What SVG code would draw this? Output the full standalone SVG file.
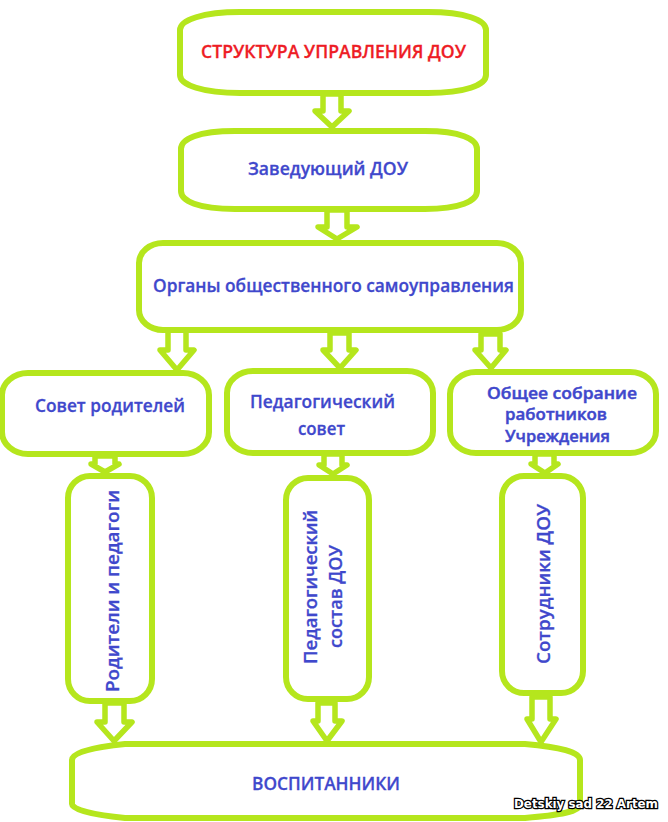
<svg xmlns="http://www.w3.org/2000/svg" width="668" height="822" viewBox="0 0 668 822">
<style>
.n{fill:#fff;stroke:#b5e61d;stroke-width:6}
.a{fill:#fff;stroke:#b5e61d;stroke-width:5.5;stroke-linejoin:round}
text{font-family:"Open Sans","Noto Sans","Liberation Sans",sans-serif;font-weight:600;font-size:18.5px;fill:#3f48cc;stroke:#3f48cc;stroke-width:.3}
.t{fill:#ee1c25;stroke:#ee1c25}
.s{font-size:15.5px;stroke-width:.45}
.w{font-family:"DejaVu Sans",sans-serif;font-weight:700;font-size:11.5px;fill:#fff;stroke:#000;stroke-width:2.4;paint-order:stroke}
</style>
<rect width="668" height="822" fill="#fff"/>
<g id="connectors">
<polygon class="a" points="323,94 323,111 315,111 332,127 349,111 341,111 341,94"/>
<polygon class="a" points="327,210 327,227 318,227 337,239 357,227 347,227 347,210"/>
<polygon class="a" points="168,330 168,350 160,350 177,370 194,350 186,350 186,330"/>
<polygon class="a" points="330,333 330,350 323,350 340,368 356,350 349,350 349,333"/>
<polygon class="a" points="481,334 481,350 475,350 491,368 506,350 500,350 500,334"/>
<polygon class="a" points="95,456 95,464 91,464 105,472 119,464 115,464 115,456"/>
<polygon class="a" points="324,454 324,465 319,465 333,474 347,465 342,465 342,454"/>
<polygon class="a" points="535,454 535,464 531,464 545,473 558,464 554,464 554,454"/>
<polygon class="a" points="105,703 105,722 97,722 114,741 132,722 124,722 124,703"/>
<polygon class="a" points="318,703 318,721 313,721 327,741 342,721 335,721 335,703"/>
<polygon class="a" points="532,697 532,719 527,719 541,742 556,719 550,719 550,697"/>
</g>
<g id="node-title"><path class="n" d="M240,12H428C465,12 486,20 486,30V75C486,85 465,93 428,93H240C203,93 180,85 180,75V30C180,20 203,12 240,12Z"/><text class="t" x="201" y="58" textLength="265" lengthAdjust="spacingAndGlyphs">СТРУКТУРА УПРАВЛЕНИЯ ДОУ</text></g>
<g id="node-head"><path class="n" d="M235,131H425C460,131 477,139 477,149V191C477,201 460,209 425,209H235C198,209 181,201 181,191V149C181,139 198,131 235,131Z"/><text x="248" y="175" textLength="160" lengthAdjust="spacingAndGlyphs">Заведующий ДОУ</text></g>
<g id="node-organs"><rect class="n" x="139" y="243" width="382" height="87" rx="24" ry="20"/><text x="153" y="292" textLength="361" lengthAdjust="spacingAndGlyphs">Органы общественного самоуправления</text></g>
<g id="node-parents"><rect class="n" x="2" y="373" width="207" height="81" rx="26" ry="22"/><text x="35" y="412" textLength="150" lengthAdjust="spacingAndGlyphs">Совет родителей</text></g>
<g id="node-ped"><rect class="n" x="227" y="371" width="206" height="82" rx="26" ry="22"/><text x="250" y="408" textLength="145" lengthAdjust="spacingAndGlyphs">Педагогический</text><text x="298" y="435" textLength="47" lengthAdjust="spacingAndGlyphs">совет</text></g>
<g id="node-staff"><rect class="n" x="450" y="372" width="206" height="81" rx="26" ry="22"/><text class="s" x="487" y="399" textLength="150" lengthAdjust="spacingAndGlyphs">Общее собрание</text><text class="s" x="505" y="420" textLength="102" lengthAdjust="spacingAndGlyphs">работников</text><text class="s" x="505" y="442" textLength="105" lengthAdjust="spacingAndGlyphs">Учреждения</text></g>
<g id="node-col1"><rect class="n" x="68" y="476" width="84" height="225" rx="22" ry="22"/><text transform="translate(119,692) rotate(-90)" textLength="202" lengthAdjust="spacingAndGlyphs">Родители и педагоги</text></g>
<g id="node-col2"><rect class="n" x="286" y="478" width="83" height="221" rx="22" ry="22"/><text transform="translate(317,664) rotate(-90)" textLength="154" lengthAdjust="spacingAndGlyphs">Педагогический</text><text transform="translate(342,648) rotate(-90)" textLength="103" lengthAdjust="spacingAndGlyphs">состав ДОУ</text></g>
<g id="node-col3"><rect class="n" x="502" y="476" width="81" height="217" rx="22" ry="22"/><text transform="translate(550,664) rotate(-90)" textLength="160" lengthAdjust="spacingAndGlyphs">Сотрудники ДОУ</text></g>
<g id="node-pupils"><path class="n" d="M125,744H525C560,747 580,752 580,760V804C580,812 560,815 525,818H125C95,815 72,810 72,804V760C72,752 95,747 125,744Z"/><text x="252" y="790" textLength="148" lengthAdjust="spacingAndGlyphs">ВОСПИТАННИКИ</text></g>
<text class="w" x="514" y="808" textLength="144" lengthAdjust="spacingAndGlyphs">Detskiy sad 22 Artem</text>
</svg>
